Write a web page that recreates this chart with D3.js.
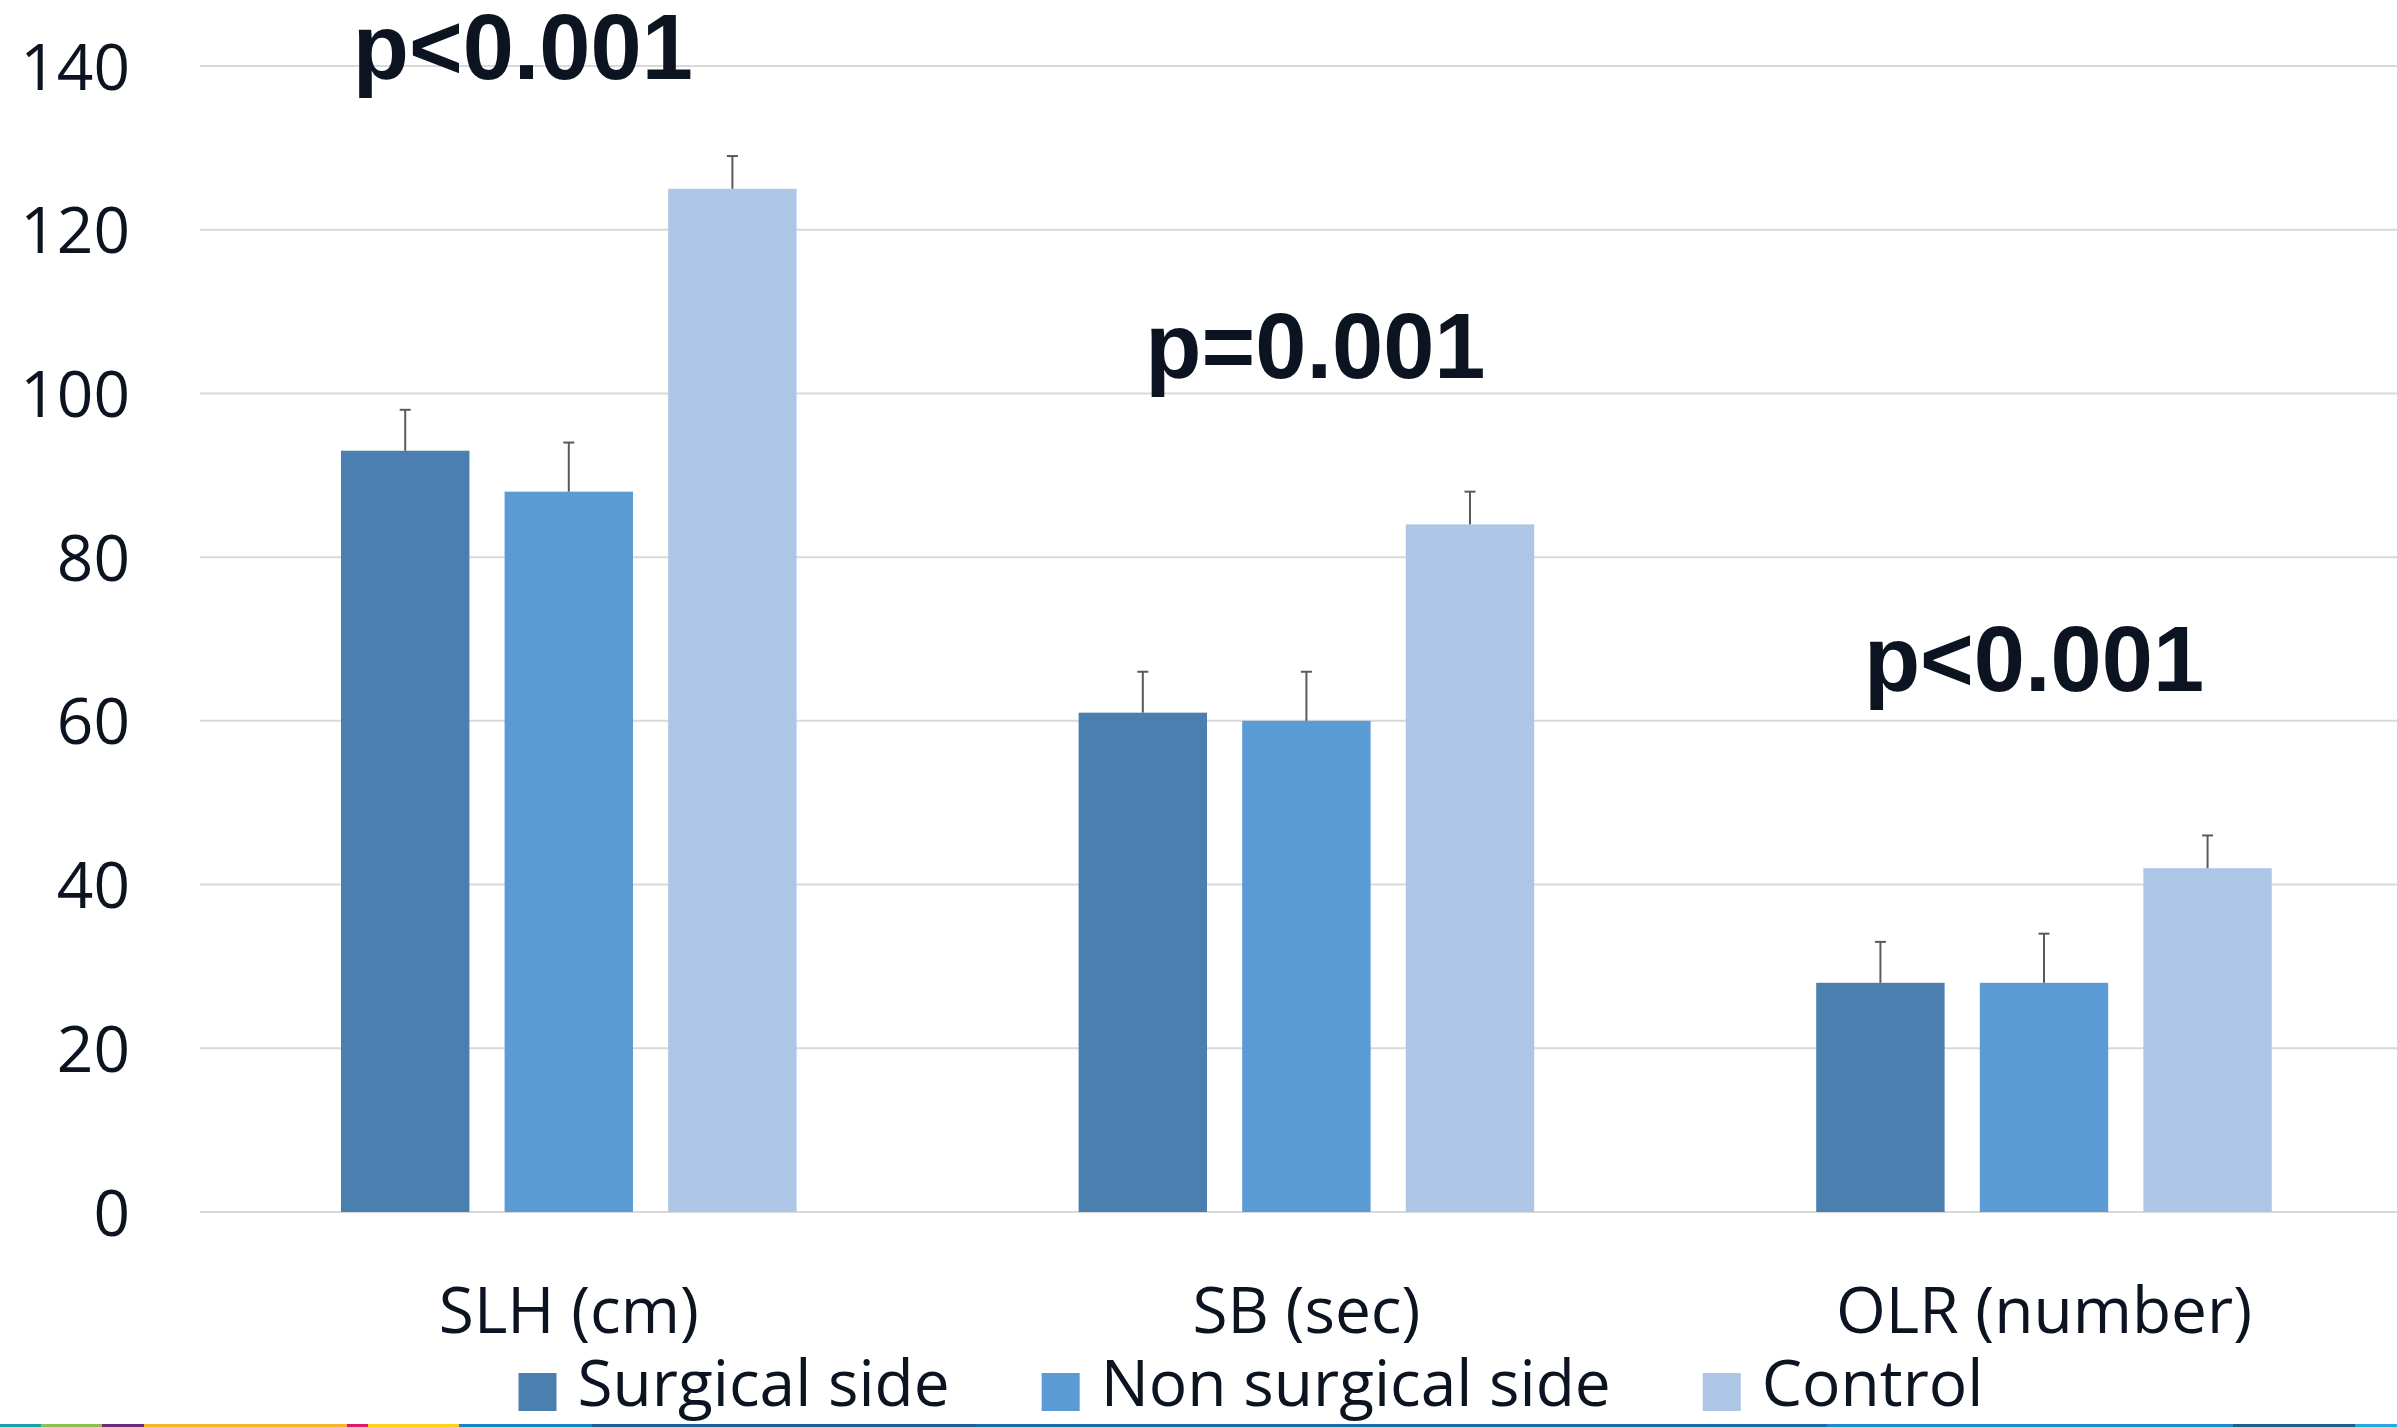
<!DOCTYPE html>
<html>
<head>
<meta charset="utf-8">
<script src="https://cdn.jsdelivr.net/npm/d3@7"></script>
<style>
  body { margin: 0; background: #fff; }
  svg { display: block; }
</style>
</head>
<body>
<div id="main"></div>
<script>
// chart data
const categories = ['SLH (cm)', 'SB (sec)', 'OLR (number)'];
const seriesNames = ['Surgical side', 'Non surgical side', 'Control'];
const surgicalSide = [93, 61, 28];
const nonSurgicalSide = [88, 60, 28];
const control = [125, 84, 42];
// upper end of the error bars
const surgicalErr = [98, 66, 33];
const nonSurgicalErr = [94, 66, 34];
const controlErr = [129, 88, 46];
const yTicks = [0, 20, 40, 60, 80, 100, 120, 140];
// p-value notes and the level (in axis units) where their baseline sits
const pLabels = ['p<0.001', 'p=0.001', 'p<0.001'];
const pLevels = [138.4, 101.9, 63.6];

const seriesValues = [surgicalSide, nonSurgicalSide, control];
const seriesErrors = [surgicalErr, nonSurgicalErr, controlErr];
const colors = ['#4b7fb0', '#5b9bd5', '#aec6e6'];

// layout
const width = 2397, height = 1427;
const margin = { left: 200, top: 66, bottom: 215 };
const textColor = '#0c1421';
const labelFont = '"Open Sans", "Noto Sans", sans-serif';
const pShift = [-46, 9, -10];

const svg = d3.select('#main')
  .append('svg')
  .attr('width', width)
  .attr('height', height);

const xScale = d3.scaleBand()
  .domain(categories)
  .range([margin.left, margin.left + 3 * 737.6]);

const xSub = d3.scaleBand()
  .domain(seriesNames)
  .range([0, xScale.bandwidth()])
  .paddingInner(0.215)
  .paddingOuter(0.862);

const yScale = d3.scaleLinear()
  .domain([0, 140])
  .range([height - margin.bottom, margin.top]);

// gridlines
svg.append('g')
  .selectAll('line')
  .data(yTicks)
  .enter()
  .append('line')
  .attr('x1', margin.left)
  .attr('x2', width)
  .attr('y1', d => yScale(d))
  .attr('y2', d => yScale(d))
  .attr('stroke', '#d9d9d9')
  .attr('stroke-width', 2);

// y axis labels (no domain line)
const yAxis = svg.append('g')
  .attr('transform', `translate(${margin.left - 70}, 0)`)
  .call(d3.axisLeft(yScale).tickValues(yTicks).tickSize(0).tickPadding(0));
yAxis.select('.domain').remove();
yAxis.selectAll('text')
  .attr('font-family', labelFont)
  .attr('font-size', 64)
  .attr('fill', textColor)
  .attr('dy', '0.36em');

// bars
const groups = svg.append('g')
  .selectAll('g')
  .data(categories)
  .enter()
  .append('g')
  .attr('transform', d => `translate(${xScale(d)}, 0)`);

groups.selectAll('rect')
  .data((d, i) => seriesNames.map((s, j) => ({ s, j, v: seriesValues[j][i], e: seriesErrors[j][i] })))
  .enter()
  .append('rect')
  .attr('x', d => xSub(d.s))
  .attr('y', d => yScale(d.v))
  .attr('width', xSub.bandwidth())
  .attr('height', d => yScale(0) - yScale(d.v))
  .attr('fill', d => colors[d.j]);

// error bars
const errG = groups.selectAll('g.err')
  .data((d, i) => seriesNames.map((s, j) => ({ s, j, v: seriesValues[j][i], e: seriesErrors[j][i] })))
  .enter()
  .append('g')
  .attr('class', 'err')
  .attr('stroke', '#5a5a5a')
  .attr('stroke-width', 2);
errG.append('line')
  .attr('x1', d => xSub(d.s) + xSub.bandwidth() / 2)
  .attr('x2', d => xSub(d.s) + xSub.bandwidth() / 2)
  .attr('y1', d => yScale(d.v))
  .attr('y2', d => yScale(d.e));
errG.append('line')
  .attr('x1', d => xSub(d.s) + xSub.bandwidth() / 2 - 5.5)
  .attr('x2', d => xSub(d.s) + xSub.bandwidth() / 2 + 5.5)
  .attr('y1', d => yScale(d.e))
  .attr('y2', d => yScale(d.e));

// category labels
svg.append('g')
  .selectAll('text')
  .data(categories)
  .enter()
  .append('text')
  .attr('x', d => xScale(d) + xScale.bandwidth() / 2)
  .attr('y', 1333)
  .attr('text-anchor', 'middle')
  .attr('font-family', labelFont)
  .attr('font-size', 64)
  .attr('fill', textColor)
  .text(d => d);

// p-value notes
svg.append('g')
  .selectAll('text')
  .data(pLabels)
  .enter()
  .append('text')
  .attr('x', (d, i) => xScale(categories[i]) + xScale.bandwidth() / 2 + pShift[i])
  .attr('y', (d, i) => yScale(pLevels[i]))
  .attr('text-anchor', 'middle')
  .attr('font-family', '"Liberation Sans", Arial, sans-serif')
  .attr('font-weight', 'bold')
  .attr('font-size', 92)
  .attr('fill', textColor)
  .text(d => d);

// bottom decorative strip
const strip = [
  [0, 41, '#1aa0a8'], [41, 102, '#8cc152'], [102, 144, '#6b2d7b'],
  [144, 347, '#f7b52c'], [347, 368, '#e0176b'], [368, 459, '#ffd31a'],
  [459, 592, '#1784c7'], [592, 976, '#1c5f96'], [976, 1827, '#1a6dab'],
  [1827, 2233, '#1e8bcb'], [2233, 2355, '#1f5d8f'], [2355, 2397, '#26a9e0']
];
svg.append('g')
  .selectAll('rect')
  .data(strip)
  .enter()
  .append('rect')
  .attr('x', d => d[0])
  .attr('y', 1424)
  .attr('width', d => d[1] - d[0])
  .attr('height', 3)
  .attr('fill', d => d[2]);

// legend
const legend = svg.append('g');
const items = legend.selectAll('g')
  .data(seriesNames)
  .enter()
  .append('g');
items.append('rect')
  .attr('width', 38)
  .attr('height', 38)
  .attr('y', 1373)
  .attr('fill', (d, i) => colors[i]);
items.append('text')
  .attr('x', 59)
  .attr('y', 1406)
  .attr('font-family', labelFont)
  .attr('font-size', 64)
  .attr('fill', textColor)
  .text(d => d);

// place legend items next to each other, centred
let pos = 0;
const offsets = [];
items.each(function () {
  offsets.push(pos);
  const w = d3.select(this).select('text').node().getComputedTextLength();
  pos += 59 + w + 92;
});
const total = pos - 92;
const start = 1251 - total / 2;
items.attr('transform', (d, i) => `translate(${start + offsets[i]}, 0)`);
</script>
</body>
</html>
